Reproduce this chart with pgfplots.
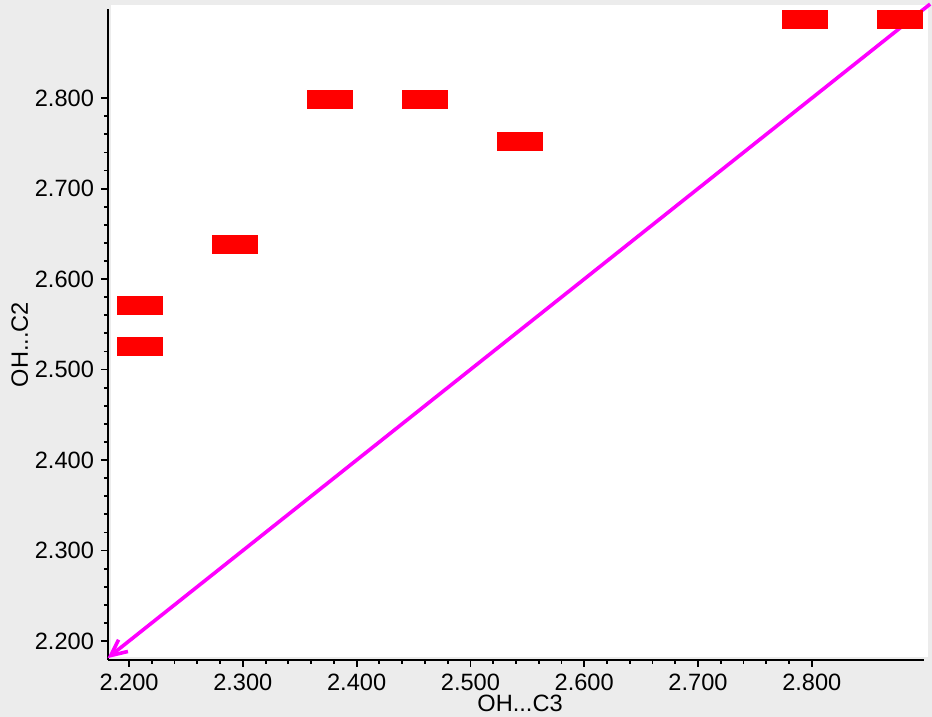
\documentclass[border=0pt]{standalone}
\usepackage{fontspec}
\setmainfont{Liberation Sans}
\usepackage{pgfplots}
\pgfplotsset{compat=1.18}
\usetikzlibrary{arrows.meta}
\definecolor{bggray}{HTML}{ECECEC}
\definecolor{mag}{RGB}{255,0,255}
\pgfdeclareplotmark{redbar}{%
  \pgfpathrectangle{\pgfpoint{-11.5pt}{-4.75pt}}{\pgfpoint{23pt}{9.5pt}}%
  \pgfusepathqfill}
\begin{document}
\begin{tikzpicture}
\path[use as bounding box, fill=bggray] (-54pt,-28.5pt) rectangle (412pt,330pt);
\fill[white] (1.5pt,1.5pt) rectangle (410pt,327.5pt);
\begin{axis}[
  at={(0,0)}, anchor=origin,
  scale only axis, width=408pt, height=325.25pt,
  xmin=2.1815, xmax=2.8986, ymin=2.179, ymax=2.898,
  axis x line=bottom, axis y line=left,
  axis line style={-, line width=1pt, black},
  xtick={2.2,2.3,...,2.81}, ytick={2.2,2.3,...,2.81},
  minor tick num=4,
  tick align=outside,
  major tick length=3.5pt, minor tick length=2pt,
  every tick/.style={black, line width=0.9pt},
  tick label style={font=\fontsize{11.8}{13}\selectfont},
  /pgf/number format/.cd, fixed, fixed zerofill, precision=3, assume math mode=true,
  /pgfplots/.cd,
  xlabel={OH...C3}, ylabel={OH...C2},
  label style={font=\fontsize{11.8}{13}\selectfont},
  xlabel style={at={(axis description cs:0.505,-0.066)}, anchor=center},
  ylabel style={at={(axis description cs:-0.108,0.485)}, anchor=center, rotate=0},
  clip=false,
]
\addplot[only marks, mark=redbar, color=red] coordinates {
  (2.2097,2.5713) (2.2097,2.5254) (2.293,2.638) (2.3766,2.798)
  (2.460,2.798) (2.5436,2.7525) (2.794,2.887) (2.8775,2.887)
};
\addplot[mag, line width=1.8pt, {Straight Barb[length=8pt,width=7.5pt,line width=1.8pt]}-] coordinates {
  (2.181,2.181) (2.904,2.904)
};
\end{axis}
\end{tikzpicture}
\end{document}
